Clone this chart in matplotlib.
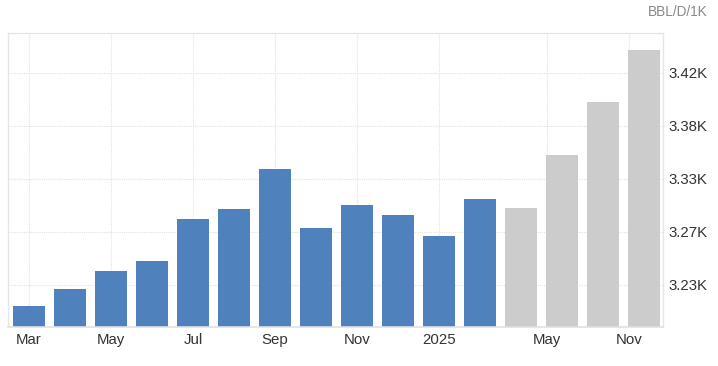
import matplotlib
matplotlib.use("Agg")
import matplotlib.pyplot as plt

plt.rcParams['font.family'] = ['Liberation Sans', 'DejaVu Sans']

# Data
actual_values = [3.209, 3.224, 3.241, 3.250, 3.288, 3.297, 3.333, 3.280,
                 3.300, 3.291, 3.272, 3.306]
forecast_values = [3.298, 3.346, 3.394, 3.441]
x_tick_pos = [0, 2, 4, 6, 8, 10, 12.63, 14.63]
x_tick_labels = ['Mar', 'May', 'Jul', 'Sep', 'Nov', '2025', 'May', 'Nov']
y_tick_vals = [3.228, 3.276, 3.324, 3.372, 3.420]
y_tick_labels = ['3.23K', '3.27K', '3.33K', '3.38K', '3.42K']
unit_label = 'BBL/D/1K'

W, H = 718, 366
fig = plt.figure(figsize=(W / 100, H / 100), dpi=100)
ax = fig.add_axes([8 / W, (H - 327) / H, (663 - 8) / W, (327 - 33) / H])

n_a = len(actual_values)
xa = list(range(n_a))
xf = list(range(n_a, n_a + len(forecast_values)))
ax.bar(xa, actual_values, width=0.78, color='#4f81bd', zorder=2)
ax.bar(xf, forecast_values, width=0.78, color='#cccccc', zorder=2)

ax.set_ylim(3.190, 3.456)
ax.set_xlim(-0.512, 15.46)

ax.set_yticks(y_tick_vals)
ax.set_yticklabels(y_tick_labels)
ax.yaxis.tick_right()
ax.set_xticks(x_tick_pos)
ax.set_xticklabels(x_tick_labels)

ax.tick_params(axis='both', length=0, labelsize=10.8, colors='#333333')
ax.tick_params(axis='y', pad=4)
ax.tick_params(axis='x', pad=4)

ax.grid(True, color='#e2e2e2', linestyle=(0, (1, 1)), linewidth=0.8, zorder=0)

for side in ['left', 'right']:
    ax.spines[side].set_color('#e6e6e6')
    ax.spines[side].set_linewidth(1)
ax.spines['bottom'].set_color('#e0e0e0')
ax.spines['bottom'].set_linewidth(1.2)
ax.spines['top'].set_color('#e2e2e2')
ax.spines['top'].set_linestyle((0, (1, 1)))
ax.spines['top'].set_linewidth(0.8)

fig.text(708 / W, 1 - 12 / H, unit_label, ha='right', va='center',
         fontsize=9.8, color='#888888')

fig.savefig('out.png', dpi=100)
